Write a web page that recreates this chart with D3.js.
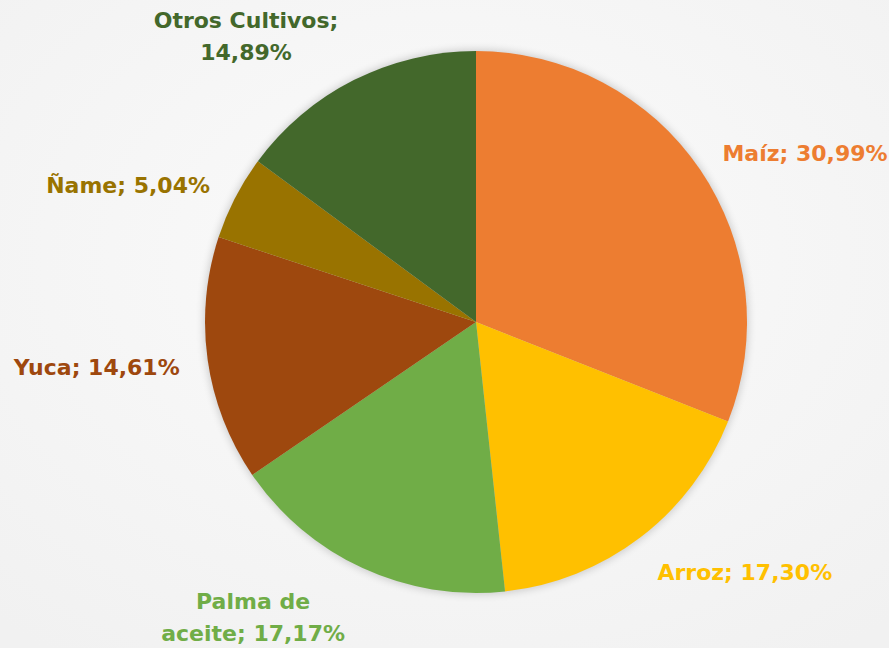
<!DOCTYPE html>
<html><head><meta charset="utf-8">
<script src="https://cdn.jsdelivr.net/npm/d3@7/dist/d3.min.js"></script>
<style>html,body{margin:0;padding:0;background:#f8f8f8;}svg{display:block;}</style>
</head><body>
<svg id="c" width="889" height="648"></svg>
<script>
const categories = ["Maíz", "Arroz", "Palma de aceite", "Yuca", "Ñame", "Otros Cultivos"];
const values = [30.99, 17.30, 17.17, 14.61, 5.04, 14.89];
const valueLabels = ["30,99%", "17,30%", "17,17%", "14,61%", "5,04%", "14,89%"];
const colors = ["#ED7D31", "#FFC000", "#70AD47", "#9E480E", "#997300", "#43682B"];

const W = 889, H = 648;
const svg = d3.select("#c");
const defs = svg.append("defs");
const bg = defs.append("radialGradient").attr("id","bg").attr("cx","50%").attr("cy","40%").attr("r","75%");
bg.append("stop").attr("offset","0%").attr("stop-color","#fbfbfb");
bg.append("stop").attr("offset","100%").attr("stop-color","#f1f1f1");
svg.append("rect").attr("width",W).attr("height",H).attr("fill","url(#bg)");
const f = defs.append("filter").attr("id","sh").attr("x","-20%").attr("y","-20%").attr("width","140%").attr("height","140%");
f.append("feGaussianBlur").attr("stdDeviation",4);

const cx = 476, cy = 322, r = 271;
const g = svg.append("g").attr("transform",`translate(${cx},${cy})`);
g.append("circle").attr("r", r+1).attr("fill","#000").attr("opacity",0.18).attr("filter","url(#sh)");

const data = categories.map((c,i)=>({cat:c, v:values[i], lab:valueLabels[i], col:colors[i]}));
const pie = d3.pie().value(d=>d.v).sort(null);
const arc = d3.arc().innerRadius(0).outerRadius(r);
const arcs = pie(data);
g.selectAll("path.s").data(arcs).join("path").attr("class","s")
  .attr("d", arc).attr("fill", d=>d.data.col);

// label layout: angular/radial placement around the pie, with line breaks
const labelLayout = [
  {da: 7.0, rr: 370, lines: d=>[`${d.cat}; ${d.lab}`]},
  {da: -9.8, rr: 367, lines: d=>[`${d.cat}; ${d.lab}`]},
  {da: 12.3, rr: 370, lines: d=>["Palma de", `aceite; ${d.lab}`]},
  {da: 1.2, rr: 382, lines: d=>[`${d.cat}; ${d.lab}`]},
  {da: -5.8, rr: 374, lines: d=>[`${d.cat}; ${d.lab}`]},
  {da: -12.0, rr: 367, lines: d=>["Otros Cultivos;", d.lab]}
];
const fs = 22, lh = 32;
arcs.forEach((a,i)=>{
  const L = labelLayout[i];
  const ang = ((a.startAngle + a.endAngle)/2) + L.da*Math.PI/180;
  const x = Math.sin(ang)*L.rr, y = -Math.cos(ang)*L.rr;
  const lines = L.lines(a.data);
  const t = g.append("text").attr("text-anchor","middle")
    .attr("font-family","'DejaVu Sans', sans-serif").attr("font-weight","bold")
    .attr("font-size", fs).attr("fill", a.data.col);
  lines.forEach((s,k)=>{
    t.append("tspan").attr("x", x).attr("y", y + (k - (lines.length-1)/2)*lh).attr("dy","0.36em").text(s);
  });
});
</script>
</body></html>
